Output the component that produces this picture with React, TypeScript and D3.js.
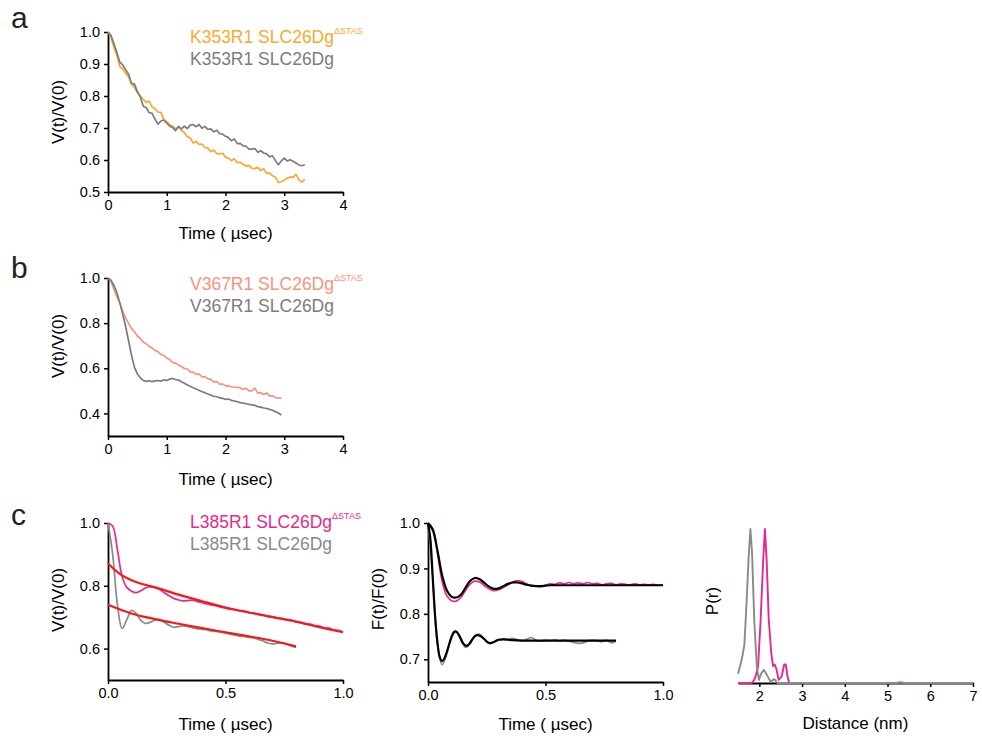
import React, { useEffect, useRef } from 'react'
import * as d3 from 'd3'

const FONT = '"Liberation Sans", Arial, Helvetica, sans-serif'

// ---- panel a: K353R1 DEER traces (sampled every 0.05 usec)
const stepA = 0.05
const k353Delta = [
    1.000, 0.985, 0.952, 0.928, 0.892, 0.884, 0.870, 0.860, 0.836, 0.827,
    0.810, 0.800, 0.790, 0.780, 0.784, 0.766, 0.760, 0.750, 0.749, 0.726,
    0.720, 0.710, 0.706, 0.698, 0.703, 0.692, 0.686, 0.673, 0.669, 0.653,
    0.658, 0.649, 0.650, 0.639, 0.637, 0.626, 0.631, 0.620, 0.619, 0.621,
    0.609, 0.605, 0.598, 0.604, 0.592, 0.593, 0.586, 0.581, 0.583, 0.574,
    0.573, 0.577, 0.567, 0.573, 0.558, 0.559, 0.551, 0.546, 0.530, 0.532,
    0.537, 0.543, 0.547, 0.546, 0.555, 0.538, 0.531, 0.540
]
const k353Full = [
    1.000, 0.990, 0.963, 0.937, 0.906, 0.897, 0.882, 0.868, 0.840, 0.837,
    0.814, 0.797, 0.768, 0.764, 0.748, 0.746, 0.728, 0.712, 0.722, 0.725,
    0.715, 0.706, 0.701, 0.692, 0.705, 0.697, 0.706, 0.698, 0.709, 0.711,
    0.704, 0.711, 0.699, 0.705, 0.696, 0.697, 0.688, 0.693, 0.682, 0.681,
    0.674, 0.670, 0.660, 0.666, 0.651, 0.652, 0.644, 0.643, 0.634, 0.634,
    0.636, 0.624, 0.629, 0.622, 0.619, 0.610, 0.613, 0.598, 0.585, 0.597,
    0.606, 0.597, 0.601, 0.596, 0.591, 0.584, 0.582, 0.585
]

// ---- panel b: V367R1
const stepB = 0.05
const v367Delta = [
    1.000, 0.985, 0.952, 0.918, 0.888, 0.853, 0.822, 0.800, 0.776, 0.762,
    0.743, 0.732, 0.716, 0.708, 0.698, 0.690, 0.679, 0.674, 0.662, 0.657,
    0.646, 0.638, 0.626, 0.622, 0.614, 0.608, 0.599, 0.598, 0.584, 0.582,
    0.574, 0.574, 0.562, 0.563, 0.554, 0.550, 0.540, 0.541, 0.530, 0.530,
    0.522, 0.523, 0.517, 0.516, 0.516, 0.514, 0.506, 0.512, 0.500, 0.500,
    0.512, 0.490, 0.492, 0.484, 0.491, 0.478, 0.478, 0.470, 0.469, 0.466
]
const v367Full = [
    1.000, 0.990, 0.968, 0.935, 0.892, 0.840, 0.785, 0.722, 0.658, 0.604,
    0.575, 0.558, 0.546, 0.542, 0.545, 0.541, 0.544, 0.546, 0.543, 0.549,
    0.546, 0.552, 0.555, 0.550, 0.548, 0.540, 0.534, 0.526, 0.520, 0.514,
    0.508, 0.503, 0.496, 0.492, 0.486, 0.481, 0.476, 0.474, 0.470, 0.467,
    0.462, 0.464, 0.458, 0.455, 0.452, 0.448, 0.446, 0.443, 0.440, 0.438,
    0.436, 0.430, 0.428, 0.424, 0.422, 0.418, 0.414, 0.408, 0.402, 0.393
]

// ---- panel c: L385R1 raw traces and background fits
const stepC = 0.02
const l385Delta = [
    1.000, 0.990, 0.915, 0.830, 0.795, 0.783, 0.778, 0.784, 0.793, 0.797,
    0.795, 0.788, 0.778, 0.768, 0.760, 0.755, 0.752, 0.753, 0.754, 0.750,
    0.746, 0.742, 0.739, 0.736, 0.732, 0.729, 0.725, 0.724, 0.720, 0.719,
    0.714, 0.713, 0.709, 0.707, 0.702, 0.702, 0.697, 0.696, 0.691, 0.691,
    0.685, 0.684, 0.678, 0.678, 0.673, 0.672, 0.666, 0.665, 0.660, 0.658,
    0.653
]
const l385Full = [
    1.000, 0.900, 0.740, 0.664, 0.692, 0.722, 0.712, 0.690, 0.680, 0.684,
    0.691, 0.693, 0.684, 0.674, 0.668, 0.670, 0.672, 0.670, 0.666, 0.663,
    0.662, 0.660, 0.656, 0.655, 0.652, 0.649, 0.646, 0.643, 0.640, 0.638,
    0.636, 0.634, 0.629, 0.624, 0.618, 0.615, 0.617, 0.618, 0.614, 0.608,
    0.604
]
const bgFitTime = [0, 0.05, 0.1, 0.15, 0.2, 0.3, 0.4, 0.5, 0.6, 0.7, 0.8, 0.9, 1.0]
const bgFitDelta = [0.871, 0.838, 0.818, 0.805, 0.795, 0.772, 0.751, 0.731, 0.715, 0.700, 0.686, 0.668, 0.652]
const bgFitFullTime = [0, 0.1, 0.2, 0.3, 0.4, 0.5, 0.6, 0.7, 0.8]
const bgFitFull = [0.740, 0.712, 0.694, 0.679, 0.665, 0.652, 0.639, 0.625, 0.607]

// background-corrected form factors
const formDelta = [
    1.000, 0.988, 0.935, 0.872, 0.840, 0.829, 0.828, 0.836, 0.852, 0.866,
    0.872, 0.870, 0.862, 0.855, 0.851, 0.853, 0.858, 0.864, 0.870, 0.873,
    0.871, 0.866, 0.862, 0.861, 0.860, 0.863, 0.866, 0.865, 0.868, 0.866,
    0.869, 0.866, 0.868, 0.866, 0.869, 0.866, 0.867, 0.864, 0.866, 0.867,
    0.864, 0.866, 0.865, 0.864, 0.866, 0.864, 0.865, 0.864, 0.865, 0.863,
    0.864
]
const formFull = [
    1.000, 0.885, 0.735, 0.688, 0.712, 0.748, 0.760, 0.742, 0.726, 0.735,
    0.752, 0.755, 0.744, 0.735, 0.737, 0.742, 0.745, 0.744, 0.746, 0.743,
    0.741, 0.744, 0.748, 0.742, 0.740, 0.742, 0.741, 0.743, 0.740, 0.742,
    0.740, 0.737, 0.735, 0.736, 0.740, 0.742, 0.741, 0.739, 0.742, 0.736,
    0.740
]
const formFitDelta = [
    1.000, 0.985, 0.940, 0.885, 0.852, 0.838, 0.836, 0.842, 0.858, 0.873,
    0.879, 0.876, 0.868, 0.860, 0.855, 0.856, 0.861, 0.866, 0.869, 0.869,
    0.867, 0.864, 0.862, 0.861, 0.861, 0.862, 0.863, 0.863, 0.863, 0.863,
    0.863, 0.863, 0.863, 0.863, 0.863, 0.863, 0.863, 0.863, 0.863, 0.863,
    0.863, 0.863, 0.863, 0.863, 0.863, 0.863, 0.863, 0.863, 0.863, 0.863,
    0.863
]
const formFitFullTime = [
    0, 0.01, 0.02, 0.03, 0.04, 0.05, 0.06, 0.07, 0.08, 0.09, 0.10, 0.11, 0.12,
    0.13, 0.14, 0.15, 0.16, 0.17, 0.18, 0.19, 0.20, 0.21, 0.22, 0.23, 0.24,
    0.25, 0.26, 0.27, 0.28, 0.29, 0.30, 0.32, 0.34, 0.36, 0.40, 0.5, 0.6, 0.7, 0.8
]
const formFitFull = [
    1.000, 0.965, 0.880, 0.796, 0.738, 0.705, 0.696, 0.702, 0.716, 0.733, 0.749,
    0.760, 0.761, 0.755, 0.745, 0.735, 0.730, 0.731, 0.737, 0.745, 0.751, 0.753,
    0.752, 0.749, 0.744, 0.739, 0.736, 0.736, 0.738, 0.741, 0.743, 0.744, 0.743,
    0.742, 0.741, 0.741, 0.741, 0.741, 0.741
]

// distance distributions
const distDeltaR = [1.5, 1.82, 1.88, 1.92, 1.97, 2.03, 2.09, 2.13, 2.17, 2.22, 2.28, 2.32, 2.36, 2.40, 2.45, 2.52, 2.58, 2.62, 2.66, 2.70, 3.0, 7.0]
const distDeltaP = [0, 0, 0.02, 0.05, 0.11, 0.41, 0.80, 1.00, 0.80, 0.41, 0.19, 0.11, 0.12, 0.09, 0.02, 0.04, 0.12, 0.12, 0.04, 0, 0, 0]
const distFullR = [1.5, 1.55, 1.6, 1.65, 1.7, 1.75, 1.79, 1.83, 1.88, 1.94, 1.99, 2.04, 2.1, 2.14, 2.2, 2.27, 2.33, 2.37, 2.42, 2.5, 3.0, 4.0, 5.0, 5.2, 5.3, 5.4, 6.0, 7.0]
const distFullP = [0.06, 0.11, 0.17, 0.25, 0.52, 0.82, 1.00, 0.84, 0.41, 0.11, 0.02, 0.06, 0.085, 0.07, 0.04, 0.005, 0.025, 0.02, 0, 0, 0, 0, 0, 0, 0.006, 0, 0, 0]

const timeTicks4 = [0, 1, 2, 3, 4]
const timeTicks1 = [0, 0.5, 1.0]
const distTicks = [2, 3, 4, 5, 6, 7]

const ORANGE = '#F9AA2E'
const SALMON = '#F5957D'
const PINK = '#E8288C'
const GRAY = '#7C7C7C'
const LGRAY = '#8A8A8A'
const RED = '#F21B1B'

const sampled = (vals, dt) => vals.map((v, i) => [i * dt, v])
const paired = (xs, ys) => xs.map((x, i) => [x, ys[i]])

function styleAxis(sel) {
    sel.select('.domain').attr('stroke', '#000').attr('stroke-width', 1.8)
    sel.selectAll('.tick line').attr('stroke', '#000').attr('stroke-width', 1.5)
    sel.selectAll('.tick text')
        .attr('fill', '#000')
        .style('font-family', FONT)
        .style('font-size', '14.5px')
}

function drawPanel(svg, o) {
    const x = d3.scaleLinear().domain(o.xDomain).range(o.xRange)
    const y = d3.scaleLinear().domain(o.yDomain).range(o.yRange)
    const g = svg.append('g')

    const xAxis = g.append('g')
        .attr('transform', `translate(0,${o.yRange[0]})`)
        .call(d3.axisBottom(x).tickValues(o.xTicks).tickFormat(d3.format(o.xFormat))
            .tickSize(4).tickSizeOuter(0).tickPadding(4))
    styleAxis(xAxis)

    if (o.yTicks) {
        const yAxis = g.append('g')
            .attr('transform', `translate(${o.xRange[0]},0)`)
            .call(d3.axisLeft(y).tickValues(o.yTicks).tickFormat(d3.format('.1f'))
                .tickSize(4).tickSizeOuter(0).tickPadding(4))
        styleAxis(yAxis)
    }

    o.series.forEach((s) => {
        const line = d3.line()
            .x((d) => x(d[0]))
            .y((d) => y(d[1]))
            .curve(s.curve || d3.curveLinear)
        g.append('path')
            .datum(s.data)
            .attr('fill', 'none')
            .attr('stroke', s.color)
            .attr('stroke-width', s.width || 1.7)
            .attr('stroke-linejoin', 'round')
            .attr('d', line)
    })

    // axis titles
    g.append('text')
        .attr('x', (o.xRange[0] + o.xRange[1]) / 2)
        .attr('y', o.yRange[0] + o.xTitleOffset)
        .attr('text-anchor', 'middle')
        .style('font-family', FONT)
        .style('font-size', '17px')
        .attr('fill', '#000')
        .text(o.xTitle)

    g.append('text')
        .attr('transform', `translate(${o.yTitleX},${o.yTitleY}) rotate(-90)`)
        .attr('text-anchor', 'middle')
        .attr('dy', '0.35em')
        .style('font-family', FONT)
        .style('font-size', '17px')
        .attr('fill', '#000')
        .text(o.yTitle)
}

function legend(svg, x, y, label, colors) {
    const t1 = svg.append('text')
        .attr('x', x).attr('y', y)
        .style('font-family', FONT).style('font-size', '17.5px')
        .attr('fill', colors[0])
    t1.append('tspan').text(`${label} SLC26Dg`)
    t1.append('tspan').attr('dy', -9).style('font-size', '9px').text('\u0394STAS')
    svg.append('text')
        .attr('x', x).attr('y', y + 22)
        .style('font-family', FONT).style('font-size', '17.5px')
        .attr('fill', colors[1])
        .text(`${label} SLC26Dg`)
}

export default function App() {
    const ref = useRef(null)

    useEffect(() => {
        const svg = d3.select(ref.current)
        svg.selectAll('*').remove()

        // panel letters
        ;[['a', 28], ['b', 278], ['c', 525]].forEach(([l, yy]) => {
            svg.append('text')
                .attr('x', 11).attr('y', yy)
                .style('font-family', FONT).style('font-size', '30px')
                .attr('fill', '#222')
                .text(l)
        })

        drawPanel(svg, {
            xDomain: [0, 4], xRange: [108, 343],
            yDomain: [0.5, 1.0], yRange: [192, 32],
            xTicks: timeTicks4, xFormat: 'd',
            yTicks: [0.5, 0.6, 0.7, 0.8, 0.9, 1.0],
            xTitle: 'Time ( \u00b5sec)', xTitleOffset: 47,
            yTitle: 'V(t)/V(0)', yTitleX: 58, yTitleY: 112,
            series: [
                { data: sampled(k353Delta, stepA), color: ORANGE },
                { data: sampled(k353Full, stepA), color: GRAY }
            ]
        })
        legend(svg, 190, 43, 'K353R1', [ORANGE, GRAY])

        drawPanel(svg, {
            xDomain: [0, 4], xRange: [108, 343],
            yDomain: [0.3, 1.0], yRange: [436, 278],
            xTicks: timeTicks4, xFormat: 'd',
            yTicks: [0.4, 0.6, 0.8, 1.0],
            xTitle: 'Time ( \u00b5sec)', xTitleOffset: 49,
            yTitle: 'V(t)/V(0)', yTitleX: 58, yTitleY: 346,
            series: [
                { data: sampled(v367Delta, stepB), color: SALMON },
                { data: sampled(v367Full, stepB), color: GRAY }
            ]
        })
        legend(svg, 190, 290, 'V367R1', [SALMON, GRAY])

        drawPanel(svg, {
            xDomain: [0, 1], xRange: [108, 343],
            yDomain: [0.5, 1.0], yRange: [680, 523],
            xTicks: timeTicks1, xFormat: '.1f',
            yTicks: [0.6, 0.8, 1.0],
            xTitle: 'Time ( \u00b5sec)', xTitleOffset: 50,
            yTitle: 'V(t)/V(0)', yTitleX: 58, yTitleY: 600,
            series: [
                { data: sampled(l385Full, stepC), color: LGRAY, curve: d3.curveCatmullRom },
                { data: sampled(l385Delta, stepC), color: PINK, curve: d3.curveCatmullRom },
                { data: paired(bgFitTime, bgFitDelta), color: RED, width: 2.2, curve: d3.curveMonotoneX },
                { data: paired(bgFitFullTime, bgFitFull), color: RED, width: 2.2, curve: d3.curveMonotoneX }
            ]
        })
        legend(svg, 190, 528, 'L385R1', [PINK, LGRAY])

        drawPanel(svg, {
            xDomain: [0, 1], xRange: [428, 663],
            yDomain: [0.65, 1.0], yRange: [682, 523],
            xTicks: timeTicks1, xFormat: '.1f',
            yTicks: [0.7, 0.8, 0.9, 1.0],
            xTitle: 'Time ( \u00b5sec)', xTitleOffset: 48,
            yTitle: 'F(t)/F(0)', yTitleX: 378, yTitleY: 599,
            series: [
                { data: sampled(formDelta, stepC), color: PINK, curve: d3.curveCatmullRom },
                { data: sampled(formFull, stepC), color: LGRAY, curve: d3.curveCatmullRom },
                { data: sampled(formFitDelta, stepC), color: '#000', width: 2.2, curve: d3.curveCatmullRom },
                { data: paired(formFitFullTime, formFitFull), color: '#000', width: 2.2, curve: d3.curveCatmullRom }
            ]
        })

        drawPanel(svg, {
            xDomain: [1.5, 7], xRange: [738, 973],
            yDomain: [0, 1], yRange: [683, 529],
            xTicks: distTicks, xFormat: 'd',
            yTicks: null,
            xTitle: 'Distance (nm)', xTitleOffset: 46,
            yTitle: 'P(r)', yTitleX: 712, yTitleY: 601,
            series: [
                { data: paired(distDeltaR, distDeltaP), color: PINK, width: 1.9 },
                { data: paired(distFullR, distFullP), color: LGRAY, width: 1.9 }
            ]
        })
    }, [])

    return (
        <svg
            ref={ref}
            width={982}
            height={736}
            style={{ position: 'absolute', left: 0, top: 0, background: '#fff' }}
        />
    )
}
